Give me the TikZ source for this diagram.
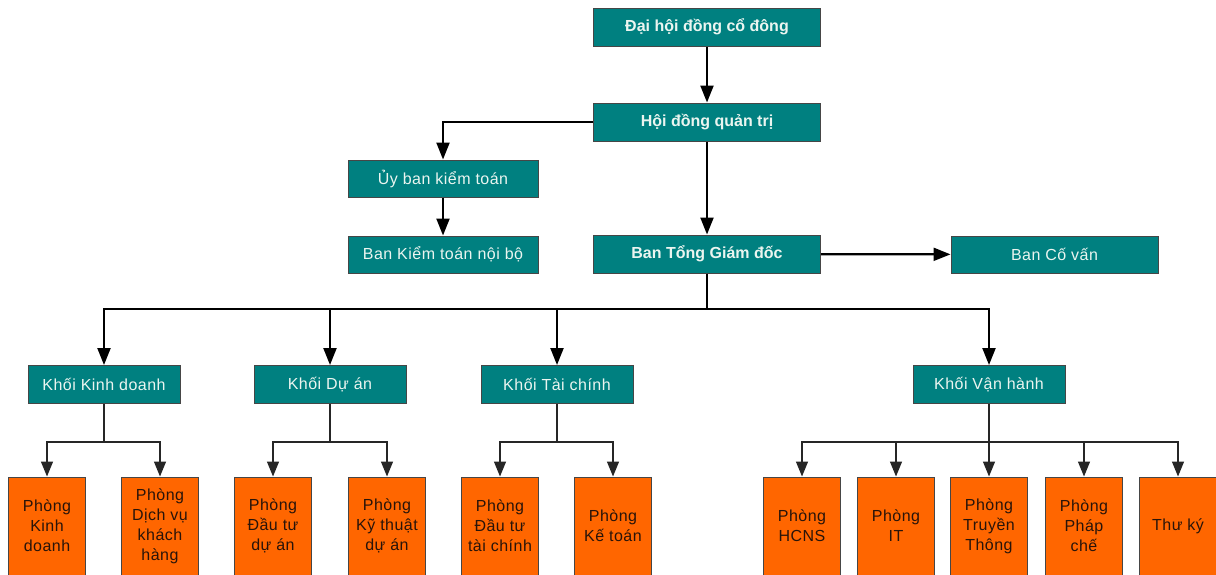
\documentclass[tikz,border=0pt]{standalone}
\usepackage{fontspec}
\setmainfont{Liberation Sans}
\newfontfamily\spacedsans[LetterSpace=3]{Liberation Sans}
\usetikzlibrary{arrows.meta}
\definecolor{tealbox}{RGB}{0,128,128}
\definecolor{orangebox}{RGB}{255,102,0}
\definecolor{edgegray}{RGB}{70,70,70}
\definecolor{lighttext}{RGB}{235,245,240}
\definecolor{darktext}{RGB}{40,20,10}
\begin{document}
\begin{tikzpicture}[x=1pt,y=-1pt,
  tbox/.style={draw=edgegray, line width=1pt, fill=tealbox, text=lighttext, minimum height=38pt, inner sep=0pt, font=\spacedsans\fontsize{16}{19}\selectfont},
  tboxb/.style={tbox, font=\rmfamily\bfseries\fontsize{16}{19}\selectfont},
  obox/.style={draw=edgegray, line width=1pt, fill=orangebox, text=darktext, minimum width=77pt, minimum height=98pt, inner sep=0pt, align=center, font=\spacedsans\fontsize{16}{20}\selectfont},
  bigline/.style={line width=2.2pt, black},
  bigarrow/.style={bigline, -{Triangle[length=17pt,width=13pt]}},
  smallline/.style={line width=1.3pt, black!85},
  smallarrow/.style={smallline, -{Triangle[length=15pt,width=12pt]}}
]
\useasboundingbox (0,0) rectangle (1216,574);
\fill[white] (0,0) rectangle (1216,574);

% top level
\node[tboxb, minimum width=227pt] (dhd) at (707,27) {Đại hội đồng cổ đông};
\node[tboxb, minimum width=227pt] (hdqt) at (707,122) {Hội đồng quản trị};
\node[tbox, minimum width=190pt, minimum height=37pt] (ub) at (443,178.5) {Ủy ban kiểm toán};
\node[tbox, minimum width=190pt, minimum height=37pt] (bkt) at (443,254.5) {Ban Kiểm toán nội bộ};
\node[tboxb, minimum width=227pt] (btgd) at (707,254) {Ban Tổng Giám đốc};
\node[tbox, minimum width=207pt, minimum height=37pt] (bcv) at (1054.5,254.5) {Ban Cố vấn};

% blocks
\node[tbox, minimum width=152pt] (k1) at (104,384.5) {Khối Kinh doanh};
\node[tbox, minimum width=152pt] (k2) at (330,384.5) {Khối Dự án};
\node[tbox, minimum width=152pt] (k3) at (557,384.5) {Khối Tài chính};
\node[tbox, minimum width=152pt] (k4) at (989,384.5) {Khối Vận hành};

% departments
\node[obox] (p1) at (47,526) {Phòng\\Kinh\\doanh};
\node[obox] (p2) at (160,526) {Phòng\\Dịch vụ\\khách\\hàng};
\node[obox] (p3) at (273,526) {Phòng\\Đầu tư\\dự án};
\node[obox] (p4) at (387,526) {Phòng\\Kỹ thuật\\dự án};
\node[obox] (p5) at (500,526) {Phòng\\Đầu tư\\tài chính};
\node[obox] (p6) at (613,526) {Phòng\\Kế toán};
\node[obox] (p7) at (802,526) {Phòng\\HCNS};
\node[obox] (p8) at (896,526) {Phòng\\IT};
\node[obox] (p9) at (989,526) {Phòng\\Truyền\\Thông};
\node[obox] (p10) at (1084,526) {Phòng\\Pháp\\chế};
\node[obox] (p11) at (1178,526) {Thư ký};

% upper connectors
\draw[bigarrow] (dhd) -- (hdqt);
\draw[bigarrow] (hdqt.west) -| (ub.north);
\draw[bigarrow] (ub) -- (bkt);
\draw[bigarrow] (hdqt.south) -- (btgd.north);
\draw[bigarrow] (btgd) -- (bcv);
\coordinate (bus) at (707,309);
\draw[bigline] (btgd.south) -- (bus);
\draw[bigarrow] (bus) -| (k1.north);
\draw[bigarrow] (bus) -| (k2.north);
\draw[bigarrow] (bus) -| (k3.north);
\draw[bigarrow] (bus) -| (k4.north);

% lower connectors
\coordinate (s1) at (104,442);
\coordinate (s2) at (330,442);
\coordinate (s3) at (557,442);
\coordinate (s4) at (989,442);
\draw[smallline] (k1.south) -- (s1);
\draw[smallline] (k2.south) -- (s2);
\draw[smallline] (k3.south) -- (s3);
\draw[smallarrow] (k4.south) -- (p9.north);
\draw[smallarrow] (s1) -| (p1.north);
\draw[smallarrow] (s1) -| (p2.north);
\draw[smallarrow] (s2) -| (p3.north);
\draw[smallarrow] (s2) -| (p4.north);
\draw[smallarrow] (s3) -| (p5.north);
\draw[smallarrow] (s3) -| (p6.north);
\draw[smallarrow] (s4) -| (p7.north);
\draw[smallarrow] (s4) -| (p8.north);
\draw[smallarrow] (s4) -| (p10.north);
\draw[smallarrow] (s4) -| (p11.north);
\end{tikzpicture}
\end{document}
